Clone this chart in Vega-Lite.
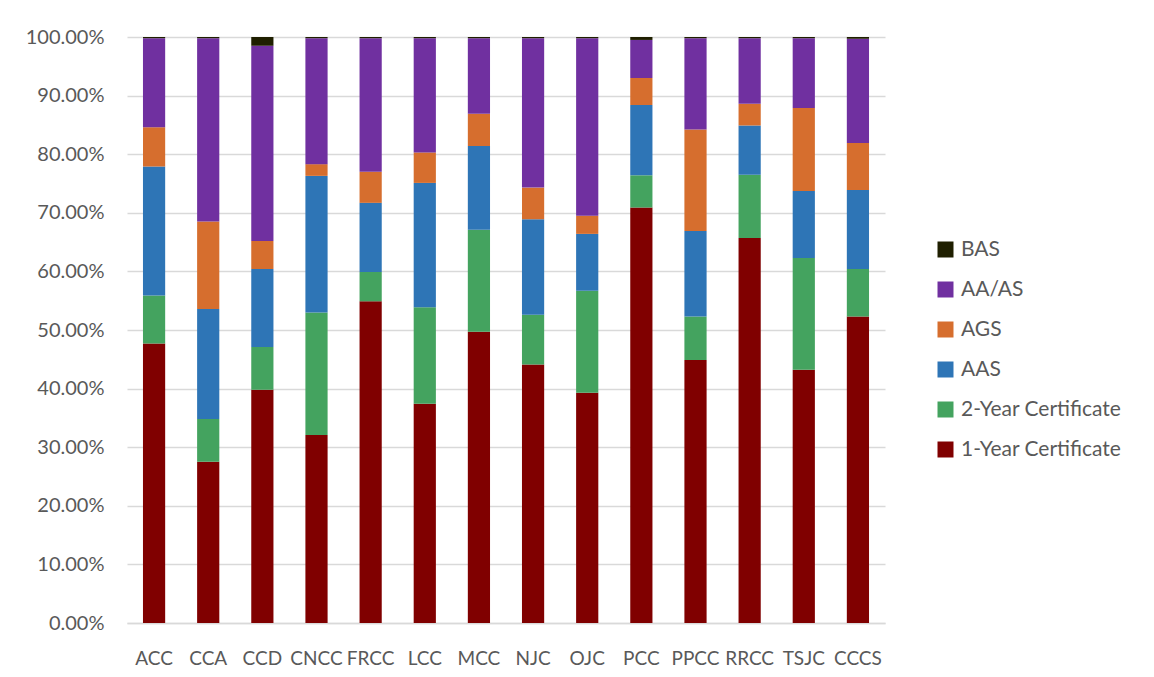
{
  "$schema": "https://vega.github.io/schema/vega-lite/v6.json",
  "width": 758,
  "height": 586,
  "autosize": {"type": "none"},
  "padding": {"left": 127, "top": 37, "right": 269, "bottom": 54},
  "background": "white",
  "config": {
    "view": {"stroke": null},
    "font": "Lato",
    "axis": {"labelColor": "#595959", "labelFontSize": 19, "labelFont": "Lato", "gridColor": "#D9D9D9", "gridWidth": 1.5, "domainColor": "#D9D9D9", "ticks": false},
    "legend": {"labelColor": "#595959", "labelFontSize": 21, "labelFont": "Lato", "labelLimit": 400}
  },
  "data": {"values": [
    {"college":"ACC","type":"1-Year Certificate","pct":47.7},{"college":"ACC","type":"2-Year Certificate","pct":8.2},{"college":"ACC","type":"AAS","pct":22.0},{"college":"ACC","type":"AGS","pct":6.7},{"college":"ACC","type":"AA/AS","pct":15.2},{"college":"ACC","type":"BAS","pct":0.2},
    {"college":"CCA","type":"1-Year Certificate","pct":27.5},{"college":"CCA","type":"2-Year Certificate","pct":7.3},{"college":"CCA","type":"AAS","pct":18.8},{"college":"CCA","type":"AGS","pct":14.9},{"college":"CCA","type":"AA/AS","pct":31.3},{"college":"CCA","type":"BAS","pct":0.2},
    {"college":"CCD","type":"1-Year Certificate","pct":39.8},{"college":"CCD","type":"2-Year Certificate","pct":7.3},{"college":"CCD","type":"AAS","pct":13.3},{"college":"CCD","type":"AGS","pct":4.8},{"college":"CCD","type":"AA/AS","pct":33.3},{"college":"CCD","type":"BAS","pct":1.5},
    {"college":"CNCC","type":"1-Year Certificate","pct":32.1},{"college":"CNCC","type":"2-Year Certificate","pct":20.9},{"college":"CNCC","type":"AAS","pct":23.3},{"college":"CNCC","type":"AGS","pct":2.0},{"college":"CNCC","type":"AA/AS","pct":21.5},{"college":"CNCC","type":"BAS","pct":0.2},
    {"college":"FRCC","type":"1-Year Certificate","pct":54.9},{"college":"FRCC","type":"2-Year Certificate","pct":5.0},{"college":"FRCC","type":"AAS","pct":11.8},{"college":"FRCC","type":"AGS","pct":5.3},{"college":"FRCC","type":"AA/AS","pct":22.8},{"college":"FRCC","type":"BAS","pct":0.2},
    {"college":"LCC","type":"1-Year Certificate","pct":37.4},{"college":"LCC","type":"2-Year Certificate","pct":16.5},{"college":"LCC","type":"AAS","pct":21.2},{"college":"LCC","type":"AGS","pct":5.2},{"college":"LCC","type":"AA/AS","pct":19.5},{"college":"LCC","type":"BAS","pct":0.2},
    {"college":"MCC","type":"1-Year Certificate","pct":49.7},{"college":"MCC","type":"2-Year Certificate","pct":17.4},{"college":"MCC","type":"AAS","pct":14.3},{"college":"MCC","type":"AGS","pct":5.5},{"college":"MCC","type":"AA/AS","pct":12.9},{"college":"MCC","type":"BAS","pct":0.2},
    {"college":"NJC","type":"1-Year Certificate","pct":44.1},{"college":"NJC","type":"2-Year Certificate","pct":8.5},{"college":"NJC","type":"AAS","pct":16.3},{"college":"NJC","type":"AGS","pct":5.4},{"college":"NJC","type":"AA/AS","pct":25.5},{"college":"NJC","type":"BAS","pct":0.2},
    {"college":"OJC","type":"1-Year Certificate","pct":39.3},{"college":"OJC","type":"2-Year Certificate","pct":17.4},{"college":"OJC","type":"AAS","pct":9.7},{"college":"OJC","type":"AGS","pct":3.1},{"college":"OJC","type":"AA/AS","pct":30.3},{"college":"OJC","type":"BAS","pct":0.2},
    {"college":"PCC","type":"1-Year Certificate","pct":70.9},{"college":"PCC","type":"2-Year Certificate","pct":5.5},{"college":"PCC","type":"AAS","pct":12.0},{"college":"PCC","type":"AGS","pct":4.6},{"college":"PCC","type":"AA/AS","pct":6.5},{"college":"PCC","type":"BAS","pct":0.5},
    {"college":"PPCC","type":"1-Year Certificate","pct":44.9},{"college":"PPCC","type":"2-Year Certificate","pct":7.4},{"college":"PPCC","type":"AAS","pct":14.6},{"college":"PPCC","type":"AGS","pct":17.3},{"college":"PPCC","type":"AA/AS","pct":15.6},{"college":"PPCC","type":"BAS","pct":0.2},
    {"college":"RRCC","type":"1-Year Certificate","pct":65.7},{"college":"RRCC","type":"2-Year Certificate","pct":10.8},{"college":"RRCC","type":"AAS","pct":8.4},{"college":"RRCC","type":"AGS","pct":3.7},{"college":"RRCC","type":"AA/AS","pct":11.2},{"college":"RRCC","type":"BAS","pct":0.2},
    {"college":"TSJC","type":"1-Year Certificate","pct":43.2},{"college":"TSJC","type":"2-Year Certificate","pct":19.1},{"college":"TSJC","type":"AAS","pct":11.4},{"college":"TSJC","type":"AGS","pct":14.2},{"college":"TSJC","type":"AA/AS","pct":11.9},{"college":"TSJC","type":"BAS","pct":0.2},
    {"college":"CCCS","type":"1-Year Certificate","pct":52.3},{"college":"CCCS","type":"2-Year Certificate","pct":8.1},{"college":"CCCS","type":"AAS","pct":13.5},{"college":"CCCS","type":"AGS","pct":8.0},{"college":"CCCS","type":"AA/AS","pct":17.8},{"college":"CCCS","type":"BAS","pct":0.3}
  ]},
  "transform": [
    {"calculate": "indexof(['1-Year Certificate','2-Year Certificate','AAS','AGS','AA/AS','BAS'], datum.type)", "as": "stackOrder"}
  ],
  "mark": {"type": "bar"},
  "encoding": {
    "x": {
      "field": "college", "type": "nominal", "sort": null, "title": null,
      "scale": {"paddingInner": 0.59, "paddingOuter": 0.295},
      "axis": {"labelAngle": 0, "labelPadding": 26, "domain": true, "domainWidth": 1.5}
    },
    "y": {
      "field": "pct", "type": "quantitative", "stack": "zero", "title": null,
      "scale": {"domain": [0, 100], "nice": false},
      "axis": {"values": [0,10,20,30,40,50,60,70,80,90,100], "labelExpr": "format(datum.value, '.2f') + '%'", "domain": false, "labelPadding": 23, "labelFontSize": 20}
    },
    "color": {
      "field": "type", "type": "nominal", "title": null,
      "scale": {
        "domain": ["BAS", "AA/AS", "AGS", "AAS", "2-Year Certificate", "1-Year Certificate"],
        "range": ["#1F1F00", "#7030A0", "#D66E2E", "#2E75B6", "#44A35F", "#800000"]
      },
      "legend": {"orient": "none", "legendX": 808, "legendY": 202, "symbolType": "square", "symbolSize": 256, "symbolStrokeWidth": 0, "rowPadding": 18, "labelOffset": 5, "labelLimit": 400}
    },
    "order": {"field": "stackOrder", "type": "quantitative"}
  }
}
